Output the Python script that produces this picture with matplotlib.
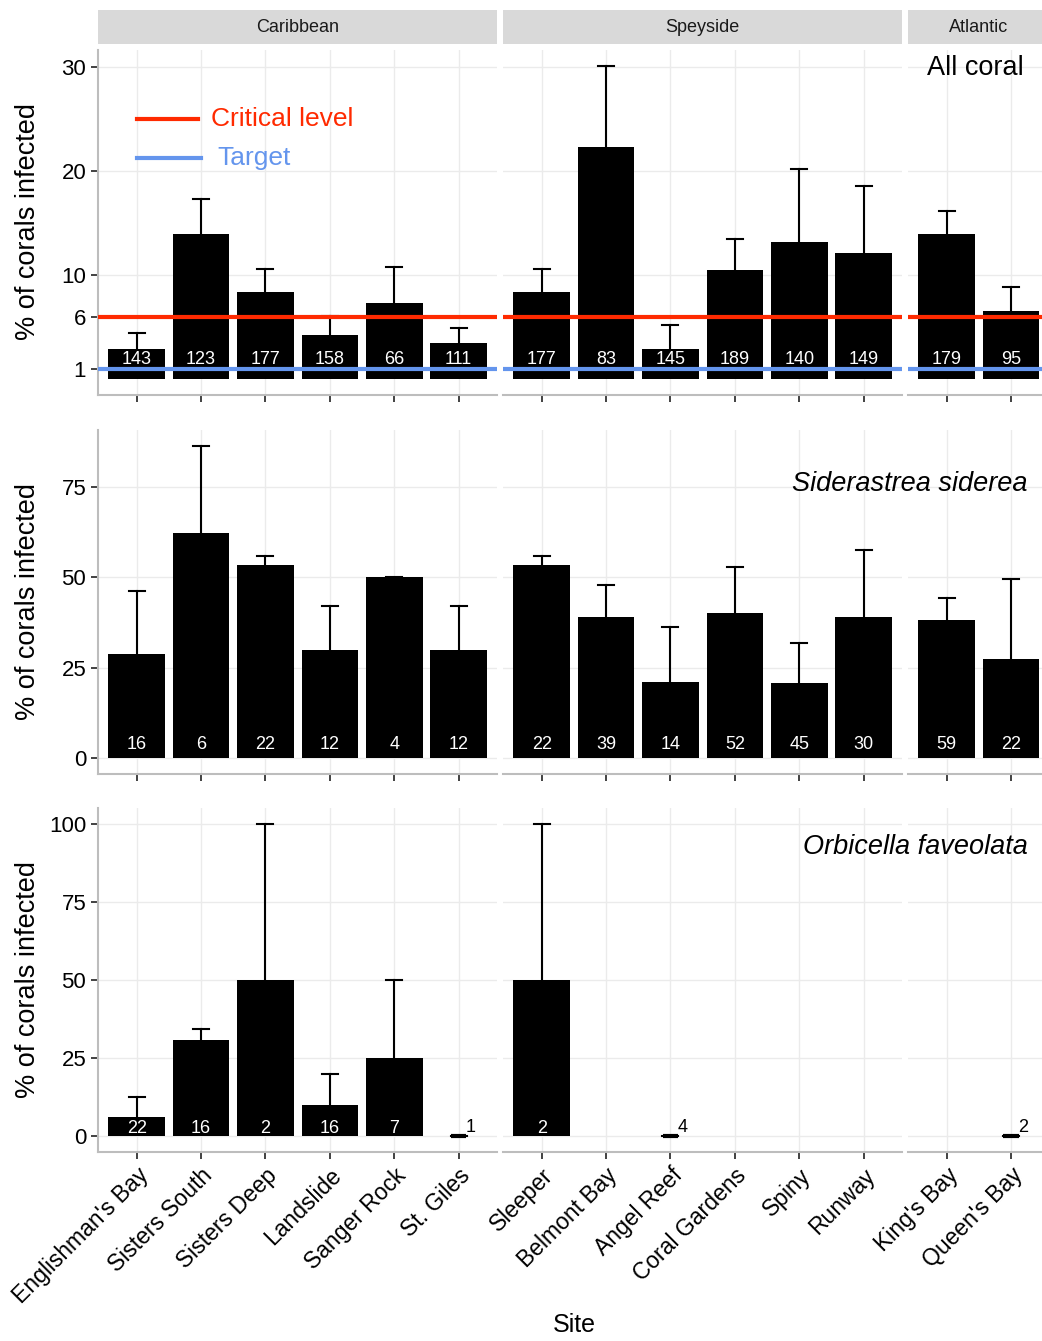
import matplotlib.pyplot as plt
import numpy as np

plt.rcParams['font.family'] = ['Liberation Sans', 'DejaVu Sans']

# sites per region
regions = ['Caribbean', 'Speyside', 'Atlantic']
sites = {
    'Caribbean': ["Englishman's Bay", 'Sisters South', 'Sisters Deep',
                  'Landslide', 'Sanger Rock', 'St. Giles'],
    'Speyside': ['Sleeper', 'Belmont Bay', 'Angel Reef', 'Coral Gardens',
                 'Spiny', 'Runway'],
    'Atlantic': ["King's Bay", "Queen's Bay"],
}

# All coral: mean % infected, upper error (mean + se), n corals
all_mean = {
    'Caribbean': [2.9, 13.9, 8.4, 4.3, 7.3, 3.45],
    'Speyside': [8.4, 22.3, 2.9, 10.5, 13.2, 12.1],
    'Atlantic': [13.9, 6.6],
}
all_top = {
    'Caribbean': [4.4, 17.3, 10.6, 6.1, 10.8, 4.9],
    'Speyside': [10.6, 30.1, 5.2, 13.5, 20.2, 18.6],
    'Atlantic': [16.2, 8.9],
}
all_n = {
    'Caribbean': [143, 123, 177, 158, 66, 111],
    'Speyside': [177, 83, 145, 189, 140, 149],
    'Atlantic': [179, 95],
}

# Siderastrea siderea
ss_mean = {
    'Caribbean': [28.9, 62.1, 53.4, 29.8, 50.0, 29.8],
    'Speyside': [53.4, 39.1, 21.2, 40.1, 20.9, 38.9],
    'Atlantic': [38.3, 27.3],
}
ss_top = {
    'Caribbean': [46.3, 86.3, 55.9, 42.1, 50.1, 42.1],
    'Speyside': [55.9, 47.9, 36.2, 52.8, 31.8, 57.4],
    'Atlantic': [44.2, 49.6],
}
ss_n = {
    'Caribbean': [16, 6, 22, 12, 4, 12],
    'Speyside': [22, 39, 14, 52, 45, 30],
    'Atlantic': [59, 22],
}

# Orbicella faveolata (None = no colonies surveyed)
of_mean = {
    'Caribbean': [6.1, 30.8, 50.0, 9.9, 25.0, 0.0],
    'Speyside': [50.0, None, 0.0, None, None, None],
    'Atlantic': [None, 0.0],
}
of_top = {
    'Caribbean': [12.7, 34.4, 100.0, 20.0, 50.0, 0.0],
    'Speyside': [100.0, None, 0.0, None, None, None],
    'Atlantic': [None, 0.0],
}
of_n = {
    'Caribbean': [22, 16, 2, 16, 7, 1],
    'Speyside': [2, None, 4, None, None, None],
    'Atlantic': [None, 2],
}

critical_level = 6
target_level = 1

rows = [
    dict(mean=all_mean, top=all_top, n=all_n, ticks=[1, 6, 10, 20, 30],
         label_y=1.9, title='All coral', italic=False, title_y=68),
    dict(mean=ss_mean, top=ss_top, n=ss_n, ticks=[0, 25, 50, 75],
         label_y=3.7, title='Siderastrea siderea', italic=True, title_y=484),
    dict(mean=of_mean, top=of_top, n=of_n, ticks=[0, 25, 50, 75, 100],
         label_y=2.5, title='Orbicella faveolata', italic=True, title_y=847),
]

W, H = 1042, 1341
fig = plt.figure(figsize=(W / 100, H / 100), dpi=100)

unit = 64.4
col_left = [98, 503, 908]
row_box = [(50, 395), (430, 774), (808, 1152)]
grid_col = '#EBEBEB'
axis_col = '#BDBDBD'


def px_axes(left, top, right, bottom):
    return fig.add_axes([left / W, 1 - bottom / H, (right - left) / W, (bottom - top) / H])


for ci, reg in enumerate(regions):
    k = len(sites[reg])
    width = (k - 1 + 1.2) * unit
    left = col_left[ci]
    # facet strip
    sax = px_axes(left, 10, left + width, 44)
    sax.set_facecolor('#D9D9D9')
    sax.set_xticks([])
    sax.set_yticks([])
    for s in sax.spines.values():
        s.set_visible(False)
    sax.text(0.5, 0.5, reg, transform=sax.transAxes,
             ha='center', va='center', fontsize=13, color='#1A1A1A')

    for ri, row in enumerate(rows):
        top_px, bot_px = row_box[ri]
        ax = px_axes(left, top_px, left + width, bot_px)
        x = np.arange(k)
        means = row['mean'][reg]
        tops = row['top'][reg]
        ns = row['n'][reg]

        ymax = max(v for r in regions for v in row['top'][r] if v is not None)
        ax.set_ylim(-0.05 * ymax, 1.05 * ymax)
        ax.set_xlim(-0.6, k - 1 + 0.6)

        for xi, m, t, n in zip(x, means, tops, ns):
            if m is None:
                continue
            ax.bar(xi, m, width=0.88, color='black', zorder=2)
            ax.plot([xi, xi], [m, t], color='black', lw=1.5, zorder=3)
            ax.plot([xi - 0.125, xi + 0.125], [t, t], color='black', lw=1.5, zorder=3)
            if m > 0:
                ax.text(xi, row['label_y'], str(n), color='white', ha='center',
                        va='center', fontsize=13, zorder=4)
            else:
                ax.plot([xi - 0.12, xi + 0.12], [m, m], color='black', lw=3, zorder=3,
                        solid_capstyle='butt')
                ax.text(xi + 0.11, 2.9, str(n), color='black', ha='left',
                        va='center', fontsize=13, zorder=4)

        if ri == 0:
            ax.axhline(critical_level, color='#FF2A00', lw=3, zorder=5)
            ax.axhline(target_level, color='cornflowerblue', lw=3, zorder=5)
            if ci == 0:
                ax.plot([0.0, 0.95], [25, 25], color='#FF2A00', lw=3, zorder=5)
                ax.text(1.15, 25, 'Critical level', color='#FF2A00', fontsize=19,
                        va='center', ha='left')
                ax.plot([0.0, 1.0], [21.2, 21.2], color='cornflowerblue', lw=3, zorder=5)
                ax.text(1.26, 21.2, 'Target', color='cornflowerblue', fontsize=19,
                        va='center', ha='left')

        ax.set_yticks(row['ticks'])
        ax.set_xticks(x)
        ax.grid(True, color=grid_col, lw=1.0, zorder=0)
        ax.set_axisbelow(True)
        for name in ['top', 'right']:
            ax.spines[name].set_visible(False)
        ax.spines['bottom'].set_color(axis_col)
        ax.spines['bottom'].set_linewidth(1.5)
        ax.tick_params(axis='both', colors='#333333', length=5, width=1.3)
        if ci == 0:
            ax.spines['left'].set_color(axis_col)
            ax.spines['left'].set_linewidth(1.5)
            ax.set_yticklabels([str(t) for t in row['ticks']], fontsize=16, color='black')
        else:
            ax.spines['left'].set_visible(False)
            ax.tick_params(axis='y', left=False, labelleft=False)
        if ri == 2:
            ax.set_xticklabels(sites[reg], rotation=45, ha='right', va='top',
                               rotation_mode='anchor', fontsize=16.5, color='black')
        else:
            ax.set_xticklabels([])

# y titles, one per row
for top_px, bot_px in row_box:
    fig.text(28 / W, 1 - (top_px + bot_px) / 2 / H + 0.6 / H, '% of corals infected',
             rotation=90, ha='center', va='center', fontsize=19.5)

# panel titles, right-aligned
for row in rows:
    fig.text((1024 if not row['italic'] else 1028) / W, 1 - row['title_y'] / H,
             row['title'], ha='right', va='center',
             fontsize=19.5, style='italic' if row['italic'] else 'normal')

fig.text(574 / W, 1 - 1325 / H, 'Site', ha='center', va='center', fontsize=18)

fig.savefig('out.png', dpi=100)
